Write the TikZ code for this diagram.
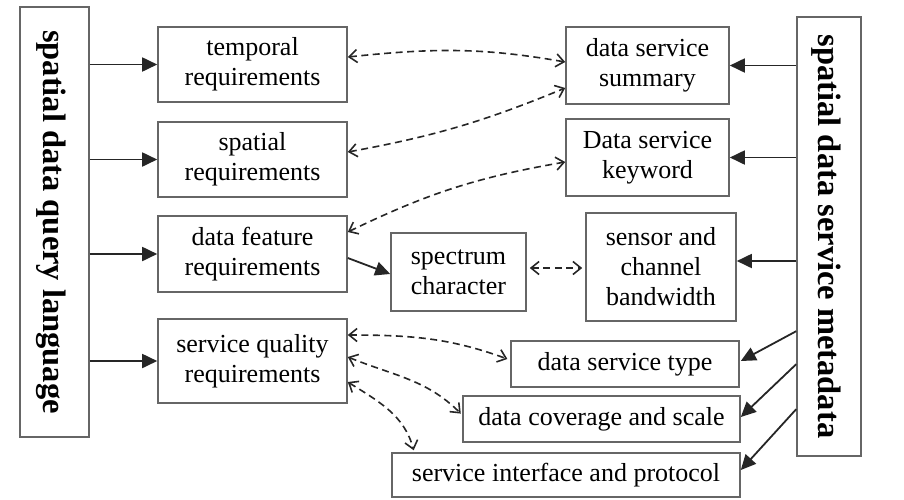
\documentclass[tikz,border=0pt]{standalone}
\usepackage{fontspec}
\setmainfont{Liberation Serif}
\usetikzlibrary{arrows.meta,calc}
\begin{document}
\begin{tikzpicture}[x=1pt,y=1pt,
 box/.style={draw=black!60,line width=1.6pt,align=center,inner sep=0pt,font=\fontsize{26}{30}\selectfont},
 side/.style={draw=black!60,line width=1.6pt,inner sep=0pt},
 sidetext/.style={rotate=-90,inner sep=0pt,font=\fontsize{32.5}{36}\selectfont\bfseries},
 sol/.style={draw=black!85,line width=1.8pt,-{Triangle[length=15pt,width=14pt]}},
 dsh/.style={draw=black!85,line width=1.6pt,dash pattern=on 7pt off 4.5pt,{Straight Barb[length=8pt,width=13pt,line width=1.6pt]}-{Straight Barb[length=8pt,width=13pt,line width=1.6pt]}}]
\useasboundingbox (0,0) rectangle (904,-499);
% left column
\node[side,minimum width=69pt,minimum height=430pt] (L) at (54.5,-222) {};
\node[sidetext] (Lt) at ([xshift=-3pt]L.center) {spatial data query language};
\node[box,minimum width=189pt,minimum height=75pt] (temp) at (252.5,-64.5) {temporal\\requirements};
\node[box,minimum width=189pt,minimum height=75pt] (spat) at (252.5,-159.5) {spatial\\requirements};
\node[box,minimum width=189pt,minimum height=76pt] (feat) at (252.5,-254) {data feature\\requirements};
\node[box,minimum width=189pt,minimum height=84pt] (qual) at (252.5,-361) {service quality\\requirements};
% right column
\node[side,minimum width=64pt,minimum height=439pt] (R) at (829,-236.5) {};
\node[sidetext] (Rt) at ([xshift=-3pt]R.center) {spatial data service metadata};
\node[box,minimum width=163pt,minimum height=77pt] (summ) at (647.5,-65.5) {data service\\summary};
\node[box,minimum width=163pt,minimum height=77pt] (key) at (647.5,-157.5) {Data service\\keyword};
\node[box,minimum width=150pt,minimum height=108pt] (sens) at (661,-267) {sensor and\\channel\\bandwidth};
\node[box,minimum width=135pt,minimum height=78pt] (spec) at (458.5,-272) {spectrum\\character};
\node[box,minimum width=228pt,minimum height=46pt] (type) at (625,-364) {data service type};
\node[box,minimum width=277pt,minimum height=46pt] (cov) at (601.5,-419) {data coverage and scale};
\node[box,minimum width=348pt,minimum height=44pt] (intf) at (566,-475) {service interface and protocol};
% solid arrows from left
\draw[sol] (L.east |- temp.west) -- (temp.west);
\draw[sol] (L.east |- spat.west) -- (spat.west);
\draw[sol] (L.east |- feat.west) -- (feat.west);
\draw[sol] (L.east |- qual.west) -- (qual.west);
% solid arrows from right
\draw[sol] (R.west |- summ.east) -- (summ.east);
\draw[sol] (R.west |- key.east) -- (key.east);
\draw[sol] ([yshift=6pt]R.west |- sens.east) -- ([yshift=6pt]sens.east);
\coordinate (r1) at ($(R.north west)+(0,-315)$);
\coordinate (r2) at ($(R.north west)+(0,-348)$);
\coordinate (r3) at ($(R.north west)+(0,-393)$);
\draw[sol] (r1) -- ([yshift=3pt,xshift=1pt]type.east);
\draw[sol] (r2) -- ([yshift=2pt]cov.east);
\draw[sol] (r3) -- ([yshift=5pt]intf.east);
\draw[sol] ([yshift=-4pt]feat.east) -- ([yshift=-2pt]spec.west);
% dashed links
\draw[dsh] ([yshift=7.5pt]temp.east) to[out=6,in=170] ([yshift=3.5pt]summ.west);
\draw[dsh] ([yshift=7.5pt]spat.east) to[bend right=6] ([yshift=-22.5pt]summ.west);
\draw[dsh] ([yshift=22pt]feat.east) to[bend left=8] ([yshift=-4.5pt]key.west);
\draw[dsh,shorten <=3pt,shorten >=3pt] ([yshift=4pt]spec.east) -- ([yshift=4pt]spec.east -| sens.west);
\draw[dsh,shorten >=3pt] ([yshift=26pt]qual.east) to[out=0,in=160] ([yshift=4pt]type.west);
\draw[dsh,shorten >=2pt] ([yshift=4pt]qual.east) to[out=-22,in=135] ([yshift=4pt]cov.west);
\draw[dsh,shorten >=2pt] ([yshift=-21pt]qual.east) to[out=-32,in=105] ([xshift=23pt]intf.north west);
\end{tikzpicture}
\end{document}
